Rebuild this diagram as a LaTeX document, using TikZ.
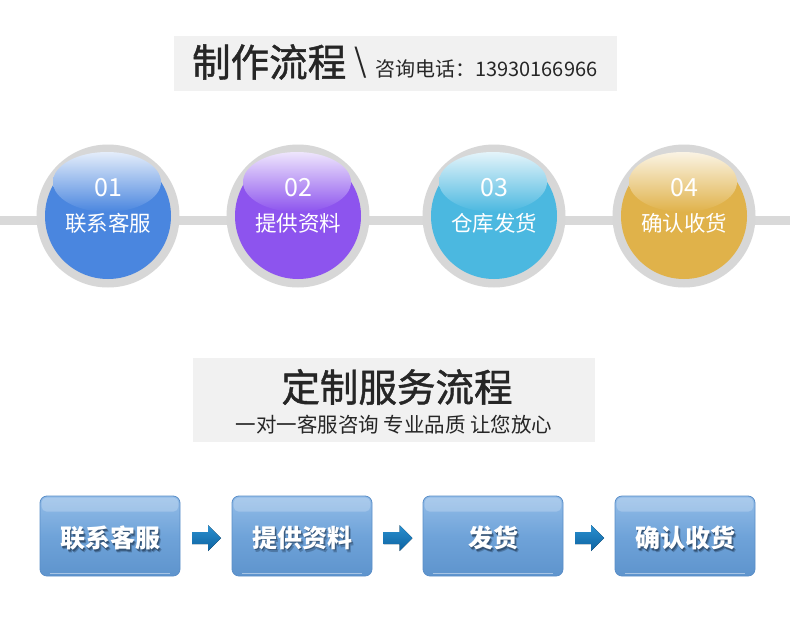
\documentclass[tikz,border=0pt]{standalone}
\usepackage{fontspec}
\setmainfont{Noto Sans CJK SC}
\newfontfamily\medfont{Noto Sans CJK SC}[FakeBold=1.2]
\usetikzlibrary{calc}
\definecolor{bannergray}{HTML}{F1F1F1}
\definecolor{ringgray}{HTML}{D7D7D7}
\definecolor{linegray}{HTML}{D9D9D9}
\definecolor{titletext}{HTML}{262626}
\definecolor{cblue}{HTML}{4A86DF}
\definecolor{cpurple}{HTML}{8D54EE}
\definecolor{ccyan}{HTML}{4BB8E0}
\definecolor{cgold}{HTML}{E0B24A}
\definecolor{boxtop}{HTML}{94BDE8}
\definecolor{boxmid}{HTML}{6FA3D9}
\definecolor{boxbot}{HTML}{5E94CD}
\definecolor{boxedge}{HTML}{5A8EC8}
\definecolor{arrowtop}{HTML}{2A90D0}
\definecolor{arrowbot}{HTML}{0D62A0}
\definecolor{shadowcol}{HTML}{1E3550}
\tikzset{
  banner/.style={fill=bannergray, draw=none},
  ring/.style={circle, fill=ringgray, minimum size=143pt, inner sep=0pt},
  numtext/.style={text=white, font=\fontsize{25}{25}\selectfont, inner sep=0pt},
  labtext/.style={text=white, font=\fontsize{21.5}{21.5}\selectfont, inner sep=0pt},
  stepbox/.style={rectangle, rounded corners=7pt, minimum width=140pt, minimum height=80pt,
    top color=boxtop, bottom color=boxbot, middle color=boxmid, draw=boxedge, line width=0.8pt},
  boxtext/.style={text=white, font=\bfseries\fontsize{25}{25}\selectfont, inner sep=0pt},
  boxshadow/.style={text=shadowcol, font=\bfseries\fontsize{25}{25}\selectfont, inner sep=0pt},
  fatarrow/.style={top color=arrowtop, bottom color=arrowbot, draw=none}
}
\begin{document}
\begin{tikzpicture}[x=1pt,y=-1pt]
\useasboundingbox[fill=white] (0,0) rectangle (790,629);
% banner 1
\fill[banner] (174,36) rectangle (617,91);
\node[anchor=west, inner sep=0pt, text=titletext, font=\medfont\fontsize{38.5}{38.5}\selectfont] (t1) at (192,62) {制作流程};
\node[anchor=west, inner sep=0pt, text=titletext, font=\fontsize{32}{32}\selectfont] (t1b) at (354,63) {\textbackslash};
\node[anchor=west, inner sep=0pt, text=titletext, font=\fontsize{20}{20}\selectfont] (t1c) at (375,69) {咨询电话：13930166966};
% line
\coordinate (L) at (0,220);
\coordinate (R) at (790,220);
\draw[linegray, line width=9pt] (L) -- (R);
% circles
\foreach \n/\x/\c/\num/\lab in {1/108/cblue/01/联系客服, 2/298/cpurple/02/提供资料, 3/494/ccyan/03/仓库发货, 4/684/cgold/04/确认收货}{
  \node[ring] (r\n) at (\x,216) {};
  \fill[\c] (r\n.center) circle (63);
  \shade[top color=white!85!\c, bottom color=\c] ($(r\n.center)+(-1,-34)$) ellipse (54 and 30);
  \node[numtext] (n\n) at ($(r\n.center)+(0,-28)$) {\num};
  \node[labtext] (l\n) at ($(r\n.center)+(0,7)$) {\lab};
}
% banner 2
\fill[banner] (193,358) rectangle (595,442);
\node[inner sep=0pt, text=titletext, font=\medfont\fontsize{38.5}{38.5}\selectfont] (t2) at (397,387) {定制服务流程};
\node[inner sep=0pt, text=titletext, font=\fontsize{20.5}{20.5}\selectfont] (t2b) at (394,425) {一对一客服咨询 专业品质 让您放心};
% boxes
\foreach \n/\x/\lab in {1/110/联系客服, 2/302/提供资料, 3/493/发货, 4/685/确认收货}{
  \node[stepbox] (b\n) at (\x,536) {};
  \fill[white, opacity=0.22, rounded corners=5pt] ($(b\n.north west)+(2,2)$) rectangle ($(b\n.north east)+(-2,16)$);
  \draw[white, opacity=0.45, line width=1.5pt] ($(b\n.south west)+(10,-3)$) -- ($(b\n.south east)+(-10,-3)$);
  \node[boxshadow, opacity=0.35] at ($(b\n.center)+(2.5,5)$) {\lab};
  \node[boxshadow, opacity=0.55] at ($(b\n.center)+(1.5,3.5)$) {\lab};
  \node[boxtext] (bt\n) at ($(b\n.center)+(0,2)$) {\lab};
}
% arrows between boxes
\foreach \a/\b in {1/2, 2/3, 3/4}{
  \coordinate (m\a) at ($(b\a.east)!0.5!(b\b.west)+(0,2)$);
  \fill[fatarrow] ($(m\a)+(-14,-6)$) -- ($(m\a)+(2,-6)$) -- ($(m\a)+(2,-13)$) -- ($(m\a)+(15,0)$)
     -- ($(m\a)+(2,13)$) -- ($(m\a)+(2,6)$) -- ($(m\a)+(-14,6)$) -- cycle;
}
\end{tikzpicture}
\end{document}
